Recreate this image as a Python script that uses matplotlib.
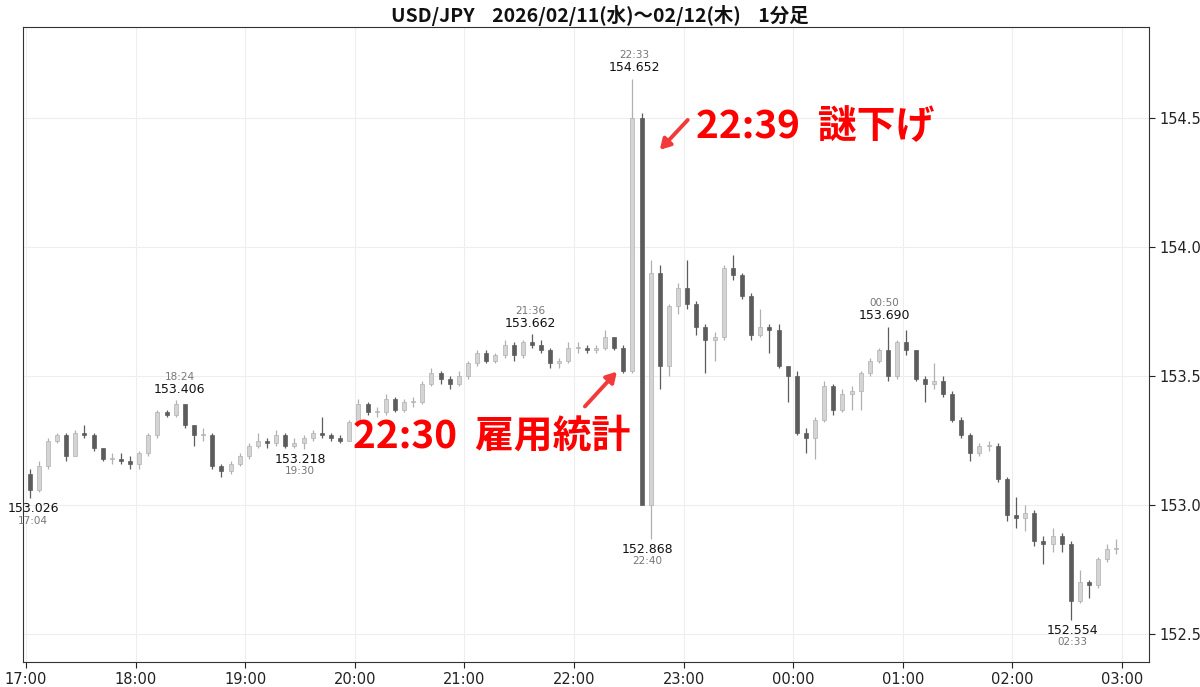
import numpy as np
import matplotlib.pyplot as plt

# 17:00 からの5分ごとの値 (チャートから読み取り)
open_first = 153.12
close = [153.06, 153.15, 153.25, 153.27, 153.19, 153.28, 153.27, 153.22, 153.18, 153.18,
         153.17, 153.16, 153.20, 153.27, 153.36, 153.35, 153.39, 153.31, 153.27, 153.27,
         153.15, 153.13, 153.16, 153.19, 153.23, 153.25, 153.24, 153.27, 153.23, 153.24,
         153.26, 153.28, 153.27, 153.26, 153.25, 153.32, 153.39, 153.36, 153.36, 153.41,
         153.37, 153.40, 153.40, 153.47, 153.51, 153.49, 153.47, 153.50, 153.55, 153.59,
         153.56, 153.58, 153.62, 153.58, 153.63, 153.62, 153.60, 153.55, 153.56, 153.61,
         153.61, 153.60, 153.61, 153.65, 153.61, 153.52, 154.50, 153.00, 153.90, 153.54,
         153.77, 153.84, 153.78, 153.69, 153.64, 153.65, 153.92, 153.89, 153.81, 153.66,
         153.69, 153.68, 153.54, 153.50, 153.28, 153.26, 153.33, 153.46, 153.37, 153.43,
         153.44, 153.51, 153.56, 153.60, 153.50, 153.63, 153.60, 153.49, 153.47, 153.48,
         153.43, 153.33, 153.27, 153.20, 153.23, 153.23, 153.10, 152.96, 152.95, 152.97,
         152.86, 152.85, 152.88, 152.85, 152.63, 152.70, 152.69, 152.79, 152.83, 152.83]
high = [153.14, 153.17, 153.26, 153.28, 153.28, 153.29, 153.31, 153.28, 153.22, 153.20,
        153.20, 153.19, 153.21, 153.28, 153.37, 153.37, 153.406, 153.39, 153.31, 153.30,
        153.28, 153.16, 153.17, 153.20, 153.24, 153.28, 153.26, 153.29, 153.28, 153.26,
        153.27, 153.29, 153.34, 153.28, 153.27, 153.33, 153.41, 153.40, 153.38, 153.43,
        153.42, 153.41, 153.42, 153.48, 153.53, 153.52, 153.50, 153.52, 153.56, 153.60,
        153.60, 153.59, 153.64, 153.63, 153.64, 153.662, 153.64, 153.61, 153.57, 153.63,
        153.63, 153.62, 153.62, 153.68, 153.65, 153.62, 154.652, 154.52, 153.95, 153.93,
        153.78, 153.86, 153.95, 153.79, 153.70, 153.67, 153.93, 153.97, 153.90, 153.82,
        153.76, 153.70, 153.70, 153.54, 153.52, 153.30, 153.34, 153.48, 153.47, 153.45,
        153.46, 153.52, 153.57, 153.61, 153.690, 153.64, 153.68, 153.60, 153.50, 153.55,
        153.50, 153.44, 153.34, 153.28, 153.24, 153.25, 153.24, 153.11, 153.03, 153.00,
        152.98, 152.88, 152.91, 152.89, 152.86, 152.75, 152.71, 152.80, 152.85, 152.87]
low = [153.026, 153.05, 153.14, 153.24, 153.17, 153.19, 153.26, 153.21, 153.17, 153.16,
       153.16, 153.14, 153.14, 153.19, 153.26, 153.34, 153.34, 153.30, 153.23, 153.25,
       153.14, 153.11, 153.12, 153.15, 153.18, 153.22, 153.22, 153.23, 153.22, 153.22,
       153.218, 153.25, 153.26, 153.25, 153.24, 153.25, 153.31, 153.35, 153.34, 153.35,
       153.36, 153.36, 153.38, 153.39, 153.46, 153.47, 153.45, 153.46, 153.49, 153.54,
       153.55, 153.55, 153.57, 153.56, 153.57, 153.61, 153.59, 153.53, 153.53, 153.55,
       153.59, 153.59, 153.59, 153.60, 153.60, 153.51, 153.51, 153.00, 152.868, 153.45,
       153.50, 153.74, 153.76, 153.66, 153.51, 153.56, 153.64, 153.87, 153.80, 153.64,
       153.65, 153.59, 153.53, 153.40, 153.27, 153.20, 153.18, 153.32, 153.35, 153.36,
       153.37, 153.37, 153.50, 153.55, 153.48, 153.49, 153.58, 153.48, 153.40, 153.45,
       153.42, 153.32, 153.26, 153.17, 153.19, 153.21, 153.09, 152.94, 152.91, 152.90,
       152.84, 152.77, 152.82, 152.82, 152.554, 152.62, 152.64, 152.68, 152.78, 152.81]

# 高値・安値ラベル
ext_times = ['17:04', '18:24', '19:30', '21:36', '22:33', '22:40', '00:50', '02:33']
ext_vals = [153.026, 153.406, 153.218, 153.662, 154.652, 152.868, 153.690, 152.554]
ext_kind = ['low', 'high', 'low', 'high', 'high', 'low', 'high', 'low']

hour_labels = ['17:00', '18:00', '19:00', '20:00', '21:00', '22:00',
               '23:00', '00:00', '01:00', '02:00', '03:00']
price_ticks = [152.5, 153.0, 153.5, 154.0, 154.5]


def to_min(s):
    h, m = map(int, s.split(':'))
    return ((h - 17) % 24) * 60 + m


o = np.array([open_first] + close[:-1])
c = np.array(close)
h = np.array(high)
l = np.array(low)
x = np.arange(len(c)) * 5 + 2
up = c >= o

fig = plt.figure(figsize=(12, 6.87), dpi=100)
ax = fig.add_axes([0.0192, 0.0364, 0.9383, 0.9243])

col = np.where(up, '#b0b0b0', '#5c5c5c')
ax.vlines(x, l, h, colors=col, lw=0.9, zorder=3)
body = np.maximum(np.abs(c - o), 0.004)
ax.bar(x, body, bottom=np.minimum(o, c), width=2.2, color=np.where(up, '#d4d4d4', '#5c5c5c'),
       edgecolor=col, linewidth=0.5, zorder=4)

ax.set_xlim(-1.6, 614.8)
ax.set_ylim(152.392, 154.852)
ax.set_xticks(range(0, 601, 60))
ax.set_xticklabels(hour_labels)
ax.set_yticks(price_ticks)
ax.set_yticklabels(['%.1f' % v for v in price_ticks])
ax.yaxis.tick_right()
ax.tick_params(labelsize=10.5, colors='#222222', length=4)
ax.grid(color='#eeeeee', lw=0.8, zorder=0)
for sp in ax.spines.values():
    sp.set_color('#333333')

# 高値・安値
for t, v, k in zip(ext_times, ext_vals, ext_kind):
    xm = to_min(t)
    if k == 'high':
        ax.annotate('%.3f' % v, (xm, v), xytext=(0, 8), textcoords='offset points',
                    ha='center', va='center', fontsize=9, color='#111111')
        ax.annotate(t, (xm, v), xytext=(0, 17), textcoords='offset points',
                    ha='center', va='center', fontsize=7.5, color='#777777')
    else:
        ax.annotate('%.3f' % v, (xm, v), xytext=(0, -7.5), textcoords='offset points',
                    ha='center', va='center', fontsize=9, color='#111111')
        ax.annotate(t, (xm, v), xytext=(0, -16), textcoords='offset points',
                    ha='center', va='center', fontsize=7.5, color='#777777')

red_fam = ['Noto Sans CJK JP']
ax.text(179, 153.266, '22:30  雇用統計', family=red_fam, fontsize=28, fontweight='bold',
        color='#ff0000', va='center', ha='left', zorder=6)
ax.text(367, 154.465, '22:39  謎下げ', family=red_fam, fontsize=28, fontweight='bold',
        color='#ff0000', va='center', ha='left', zorder=6)

arr = dict(arrowstyle='-|>,head_length=0.6,head_width=0.35', color='#f23a3a', lw=2.8,
           shrinkA=0, shrinkB=0)
ax.annotate('', xy=(323.5, 153.517), xytext=(306, 153.382), arrowprops=arr, zorder=6)
ax.annotate('', xy=(347, 154.376), xytext=(362.3, 154.492), arrowprops=arr, zorder=6)

fig.suptitle('USD/JPY    2026/02/11(水)～02/12(木)    1分足', y=0.993,
             family=['Noto Sans CJK JP'],
             fontsize=14, fontweight='bold', color='#111111')

plt.savefig('out.png', dpi=100)
